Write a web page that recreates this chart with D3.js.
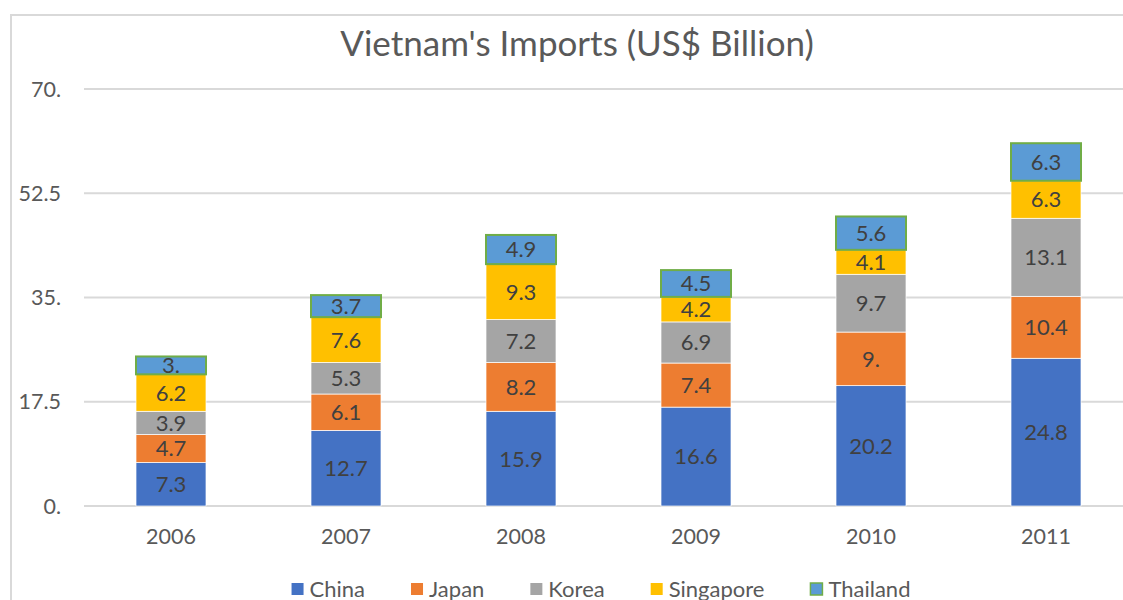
<!DOCTYPE html>
<html>
<head>
<meta charset="utf-8">
<script src="https://cdn.jsdelivr.net/npm/d3@7"></script>
<style>
  body { margin: 0; background: #fff; }
  svg { display: block; font-family: Lato, "Open Sans", sans-serif; }
</style>
</head>
<body>
<div id="chart"></div>
<script>
// stacked column chart - vietnam imports by country
const years = ["2006", "2007", "2008", "2009", "2010", "2011"];
const countries = ["China", "Japan", "Korea", "Singapore", "Thailand"];
const china = [7.3, 12.7, 15.9, 16.6, 20.2, 24.8];
const japan = [4.7, 6.1, 8.2, 7.4, 9.0, 10.4];
const korea = [3.9, 5.3, 7.2, 6.9, 9.7, 13.1];
const singapore = [6.2, 7.6, 9.3, 4.2, 4.1, 6.3];
const thailand = [3.0, 3.7, 4.9, 4.5, 5.6, 6.3];
const yTicks = [0, 17.5, 35, 52.5, 70];
const colors = ["#4472C4", "#ED7D31", "#A5A5A5", "#FFC000", "#5B9BD5"];

const width = 1123, height = 600;

// build rows for d3.stack
const rows = years.map((y, i) => ({
  year: y,
  China: china[i], Japan: japan[i], Korea: korea[i],
  Singapore: singapore[i], Thailand: thailand[i]
}));
const series = d3.stack().keys(countries)(rows);

const x = d3.scaleBand().domain(years).range([83.5, 1133.5]).paddingInner(0.6).paddingOuter(0.3);
const y = d3.scaleLinear().domain([0, 70]).range([506, 89]);
const color = d3.scaleOrdinal().domain(countries).range(colors);

// excel style "3." for whole numbers
const fmt = v => Number.isInteger(v) ? v + "." : String(v);

const svg = d3.select("#chart").append("svg")
  .attr("width", width)
  .attr("height", height);

// chart frame
svg.append("rect")
  .attr("x", 11).attr("y", 15)
  .attr("width", 1200).attr("height", 700)
  .attr("fill", "none")
  .attr("stroke", "#d9d9d9")
  .attr("stroke-width", 2);

svg.append("text")
  .attr("x", 577).attr("y", 56)
  .attr("text-anchor", "middle")
  .attr("font-size", 35)
  .attr("fill", "#595959")
  .text("Vietnam's Imports (US$ Billion)");

// gridlines + y labels
const grid = svg.append("g");
grid.selectAll("line")
  .data(yTicks)
  .join("line")
  .attr("x1", 84).attr("x2", 1134)
  .attr("y1", d => y(d)).attr("y2", d => y(d))
  .attr("stroke", "#d9d9d9")
  .attr("stroke-width", 2);
grid.selectAll("text")
  .data(yTicks)
  .join("text")
  .attr("x", 61)
  .attr("y", d => y(d))
  .attr("dy", "0.35em")
  .attr("text-anchor", "end")
  .attr("font-size", 21.5)
  .attr("fill", "#595959")
  .text(d => Number.isInteger(d) ? d + "." : d);

// x labels
svg.append("g").selectAll("text")
  .data(years)
  .join("text")
  .attr("x", d => x(d) + x.bandwidth() / 2)
  .attr("y", 544)
  .attr("text-anchor", "middle")
  .attr("font-size", 21.5)
  .attr("fill", "#595959")
  .text(d => d);

// bars
const layer = svg.append("g").selectAll("g")
  .data(series)
  .join("g")
  .attr("fill", d => color(d.key));

layer.selectAll("rect")
  .data(d => d.map(p => Object.assign(p, { key: d.key })))
  .join("rect")
  .attr("x", d => x(d.data.year))
  .attr("width", x.bandwidth())
  .attr("y", d => y(d[1]))
  .attr("height", d => y(d[0]) - y(d[1]))
  .attr("stroke", d => d.key == "Thailand" ? "#70AD47" : "#ffffff")
  .attr("stroke-width", d => d.key == "Thailand" ? 2 : 0.7);

// value labels
layer.selectAll("text")
  .data(d => d)
  .join("text")
  .attr("x", d => x(d.data.year) + x.bandwidth() / 2)
  .attr("y", d => (y(d[0]) + y(d[1])) / 2)
  .attr("dy", "0.36em")
  .attr("text-anchor", "middle")
  .attr("font-size", 22)
  .attr("fill", "#404040")
  .text(d => fmt(d.data[d.key]));

// legend, laid out from measured text widths
const legend = svg.append("g").attr("transform", "translate(0,597)");
const items = legend.selectAll("g")
  .data(countries)
  .join("g");
items.append("rect")
  .attr("y", -14)
  .attr("width", 12).attr("height", 12)
  .attr("fill", d => color(d))
  .attr("stroke", d => d == "Thailand" ? "#70AD47" : "none")
  .attr("stroke-width", 1.5);
items.append("text")
  .attr("x", 18)
  .attr("font-size", 22)
  .attr("fill", "#595959")
  .text(d => d);

let pos = 0;
const gap = 46;
const offs = [];
items.each(function () {
  offs.push(pos);
  pos += 18 + d3.select(this).select("text").node().getComputedTextLength() + gap;
});
const total = pos - gap;
const start = 601 - total / 2;
items.attr("transform", (d, i) => `translate(${start + offs[i]},0)`);
</script>
</body>
</html>
